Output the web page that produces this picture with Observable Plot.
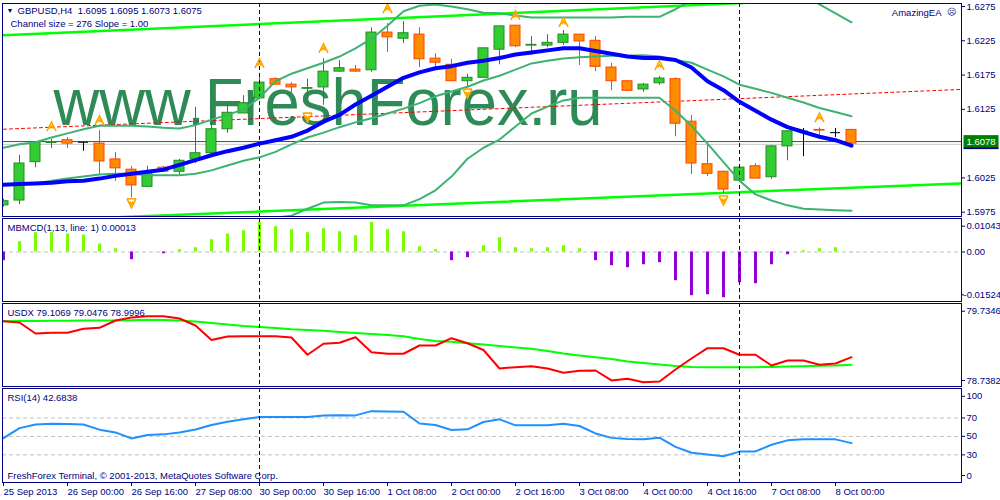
<!DOCTYPE html>
<html><head><meta charset="utf-8">
<script src="https://cdn.jsdelivr.net/npm/d3@7"></script>
<script src="https://cdn.jsdelivr.net/npm/@observablehq/plot@0.6"></script>
<style>
html,body{margin:0;padding:0;background:#fff;}
#chart{position:relative;width:1000px;height:500px;overflow:hidden;background:#fff;}
#chart svg{position:absolute;left:0;top:0;}
</style></head><body><div id="chart"></div>
<script>
// ---------- DATA ----------
const timeLabels = ["25 Sep 2013","26 Sep 00:00","26 Sep 16:00","27 Sep 08:00","30 Sep 00:00","30 Sep 16:00","1 Oct 08:00","2 Oct 00:00","2 Oct 16:00","3 Oct 08:00","4 Oct 00:00","4 Oct 16:00","7 Oct 08:00","8 Oct 00:00"];
const timeTickBars = [0,4,8,12,16,20,24,28,32,36,40,44,48,52];
const separatorBars = [16, 46];

const open  = [1.5985,1.5992,1.6048,1.6076,1.6080,1.6077,1.6075,1.6052,1.6037,1.6012,1.6040,1.6034,1.6052,1.6061,1.6096,1.6119,1.6141,1.6169,1.6161,1.6155,1.6157,1.6180,1.6183,1.6182,1.6237,1.6228,1.6234,1.6199,1.6190,1.6166,1.6171,1.6212,1.6247,1.6218,1.6218,1.6222,1.6234,1.6225,1.6186,1.6166,1.6154,1.6163,1.6169,1.6107,1.6045,1.6034,1.6021,1.6042,1.6026,1.6071,1.6093,1.6095,1.6091,1.6095];
const high  = [1.5994,1.6058,1.6078,1.6081,1.6084,1.6078,1.6094,1.6062,1.6042,1.6042,1.6042,1.6052,1.6128,1.6119,1.6134,1.6145,1.6177,1.6171,1.6164,1.6169,1.6199,1.6196,1.6189,1.6244,1.6250,1.6253,1.6244,1.6206,1.6198,1.6176,1.6214,1.6246,1.6247,1.6231,1.6234,1.6240,1.6234,1.6231,1.6192,1.6166,1.6163,1.6173,1.6171,1.6116,1.6075,1.6034,1.6040,1.6046,1.6072,1.6093,1.6097,1.6098,1.6097,1.6095];
const low   = [1.5982,1.5986,1.6040,1.6068,1.6068,1.6064,1.6030,1.6020,1.5996,1.6011,1.6033,1.6029,1.6046,1.6056,1.6090,1.6119,1.6139,1.6160,1.6128,1.6138,1.6131,1.6179,1.6179,1.6179,1.6208,1.6221,1.6186,1.6186,1.6166,1.6158,1.6171,1.6190,1.6215,1.6204,1.6215,1.6218,1.6189,1.6180,1.6152,1.6151,1.6150,1.6160,1.6085,1.6030,1.6027,1.6002,1.6021,1.6024,1.6023,1.6050,1.6056,1.6087,1.6084,1.6073];
const close = [1.5991,1.6046,1.6077,1.6077,1.6075,1.6077,1.6049,1.6039,1.6014,1.6033,1.6034,1.6050,1.6061,1.6096,1.6120,1.6134,1.6164,1.6161,1.6157,1.6156,1.6180,1.6185,1.6180,1.6237,1.6230,1.6236,1.6198,1.6193,1.6166,1.6171,1.6214,1.6246,1.6217,1.6219,1.6222,1.6234,1.6224,1.6187,1.6166,1.6152,1.6161,1.6170,1.6104,1.6046,1.6031,1.6008,1.6040,1.6024,1.6071,1.6093,1.6093,1.6094,1.6091,1.6075];

const maBlue = [1.6015,1.6016,1.6017,1.6018,1.6020,1.6021,1.6024,1.6028,1.6031,1.6034,1.6037,1.6044,1.6051,1.6058,1.6064,1.6069,1.6075,1.6080,1.6085,1.6094,1.6107,1.6117,1.6132,1.6145,1.6158,1.6171,1.6179,1.6185,1.6188,1.6193,1.6196,1.6200,1.6205,1.6208,1.6211,1.6214,1.6214,1.6210,1.6206,1.6202,1.6200,1.6200,1.6197,1.6186,1.6166,1.6153,1.6136,1.6123,1.6110,1.6099,1.6092,1.6085,1.6080,1.6072];
const bbUpper = [1.6069,1.6074,1.6077,1.6084,1.6090,1.6096,1.6101,1.6101,1.6101,1.6100,1.6098,1.6097,1.6102,1.6110,1.6117,1.6125,1.6142,1.6166,1.6177,1.6185,1.6193,1.6202,1.6214,1.6228,1.6247,1.6268,1.6276,1.6278,1.6275,1.6271,1.6266,1.6265,1.6262,1.6259,1.6259,1.6259,1.6259,1.6259,1.6259,1.6260,1.6260,1.6260,1.6271,1.6284,1.6292,1.6297,1.6301,1.6304,1.6306,1.6303,1.6290,1.6278,1.6265,1.6252];
const bbMiddle = [1.6015,1.6016,1.6017,1.6021,1.6024,1.6027,1.6030,1.6031,1.6031,1.6029,1.6029,1.6029,1.6031,1.6036,1.6043,1.6050,1.6055,1.6063,1.6074,1.6084,1.6091,1.6099,1.6106,1.6112,1.6119,1.6126,1.6134,1.6144,1.6151,1.6158,1.6167,1.6174,1.6183,1.6192,1.6196,1.6199,1.6201,1.6202,1.6203,1.6203,1.6204,1.6202,1.6197,1.6193,1.6183,1.6173,1.6161,1.6155,1.6149,1.6142,1.6135,1.6127,1.6121,1.6115];
const bbLower = [1.5961,1.5959,1.5956,1.5957,1.5959,1.5959,1.5959,1.5960,1.5961,1.5959,1.5959,1.5960,1.5959,1.5961,1.5963,1.5963,1.5964,1.5967,1.5970,1.5980,1.5989,1.5990,1.5989,1.5985,1.5985,1.5985,1.5994,1.6007,1.6027,1.6053,1.6069,1.6081,1.6100,1.6119,1.6129,1.6138,1.6142,1.6142,1.6142,1.6142,1.6142,1.6142,1.6123,1.6101,1.6075,1.6048,1.6021,1.6001,1.5992,1.5985,1.5980,1.5979,1.5978,1.5977];

const channelBars = [0, 59.8];
const channelLow  = [1.5961, 1.6017];
const channelHigh = [1.6233, 1.6294];
const regressionBars = [0, 59.8];
const regressionLine = [1.6096, 1.6154];
const levelGreen = 1.6078;
const levelBid = 1.6074;

const fractalUpBars  = [3,6,16,20,24,32,35,41,51];
const fractalUpPrice = [1.6100,1.6109,1.6192,1.6214,1.6272,1.6262,1.6252,1.6189,1.6113];
const fractalDownBars  = [8,19,29,45];
const fractalDownPrice = [1.5988,1.6113,1.6148,1.5992];

const priceTicks = [1.6275,1.6225,1.6175,1.6125,1.6025,1.5975];

const mbmcd = [-0.00279,0.00331,0.0062,0.0062,0.00578,0.00546,0.00257,0.00106,-0.00247,0,-0.00055,0.00074,0.00138,0.00395,0.00578,0.00684,0.00953,0.00812,0.00716,0.0062,0.00748,0.00652,0.00523,0.00953,0.00716,0.00652,0.0017,0.00074,-0.00279,-0.00183,0.00202,0.00459,0.00138,0.00106,0.00138,0.00202,0.00106,-0.00279,-0.0044,-0.00504,-0.00408,-0.00343,-0.00921,-0.01403,-0.01371,-0.01467,-0.00985,-0.01018,-0.00408,-0.00087,0.00042,0.00106,0.00138,0.00013];
const mbmcdMax = 0.01043, mbmcdMin = -0.01524;

const usdxRed = [79.537,79.520,79.382,79.390,79.390,79.441,79.453,79.545,79.583,79.600,79.600,79.571,79.482,79.300,79.344,79.348,79.348,79.348,79.331,79.113,79.252,79.264,79.335,79.146,79.126,79.126,79.230,79.230,79.322,79.259,79.173,78.940,78.957,78.969,78.940,78.886,78.911,78.915,78.789,78.810,78.767,78.776,78.928,79.066,79.196,79.196,79.113,79.113,78.978,79.041,79.041,78.987,79.003,79.083];
const usdxGreen = [79.537,79.539,79.539,79.541,79.542,79.545,79.545,79.545,79.548,79.554,79.551,79.545,79.533,79.514,79.495,79.476,79.463,79.451,79.436,79.426,79.416,79.400,79.388,79.375,79.363,79.348,79.312,79.287,79.277,79.259,79.243,79.224,79.205,79.189,79.161,79.129,79.104,79.083,79.060,79.028,79.010,78.991,78.972,78.959,78.957,78.957,78.957,78.957,78.959,78.965,78.969,78.974,78.978,78.987];
const usdxMax = 79.7346, usdxMin = 78.7382;

const rsi = [48.1,59,62.9,63.8,63.4,62.9,57.3,54.3,47.8,51.6,52.2,54.3,57.5,62.4,65.9,68.5,71,71,71,71,72.6,72.9,72.8,77.4,77.1,76.7,64,62.4,57,57.7,65.6,68.5,62,62,62,63.8,61.3,53.2,48.4,47.3,47,48.6,38.7,32.3,30.3,28.5,33.5,33.7,40.9,45.7,46.8,47,46.8,42.68];
const rsiLevels = [70,50,30];

// ---------- BUILD ----------
const NAVY = "#000080";
const FONT = "'Liberation Sans', Arial, sans-serif";
const FS = "9.5px";
const candles = open.map((o, i) => ({i, o, h: high[i], l: low[i], c: close[i]}));
const ser = arr => arr.map((v, i) => ({i, v}));
const pts = (xs, ys) => xs.map((x, k) => ({i: x, v: ys[k]}));

const upSym = {draw(ctx, size) { const r = Math.sqrt(size / Math.PI);
  ctx.moveTo(-r, r); ctx.lineTo(0, -r); ctx.lineTo(r, r);
  ctx.moveTo(-r * 0.45, r * 0.45); ctx.lineTo(0, -r * 0.1); ctx.lineTo(r * 0.45, r * 0.45); }};
const downSym = {draw(ctx, size) { const r = Math.sqrt(size / Math.PI);
  ctx.moveTo(-r, -r); ctx.lineTo(r, -r);
  ctx.moveTo(-r, -r); ctx.lineTo(0, r); ctx.lineTo(r, -r);
  ctx.moveTo(-r * 0.4, -r * 0.4); ctx.lineTo(0, r * 0.2); ctx.lineTo(r * 0.4, -r * 0.4); }};

function pane(top, bottom, y, marks) {
  return Plot.plot({
    width: 1000, height: 500,
    marginTop: top, marginBottom: 500 - bottom, marginLeft: 2, marginRight: 39,
    x: {domain: [0, 53], range: [3, 851], axis: null},
    y: {...y, axis: null},
    color: {type: "identity"},
    style: {background: "transparent", color: NAVY, fontFamily: FONT, fontSize: FS, overflow: "visible"},
    marks
  });
}
const label = (txt, anchor, dx, dy, extra = {}) =>
  Plot.text([txt], {text: d => d, frameAnchor: anchor, dx, dy, textAnchor: "start", lineAnchor: "middle", fill: NAVY, ...extra});
const separators = () => Plot.ruleX(separatorBars, {stroke: NAVY, strokeDasharray: "4,3", strokeWidth: 1});
const yAxis = (opts) => Plot.axisY({anchor: "right", label: null, tickSize: 3, tickPadding: 2, ...opts});

const bull = d => d.c > d.o;
const mainPlot = pane(3, 216, {domain: [1.5975, 1.6275], range: [211.7, 6]}, [
  Plot.text(["www.FreshForex.ru"], {text: d => d, frameAnchor: "top-left", dx: 51, dy: 75, lineAnchor: "top", textAnchor: "start", fontSize: 66, fill: "#2E8B57", fontFamily: FONT}),
  Plot.ruleY([levelBid], {stroke: "#C8C8C8", strokeWidth: 1}),
  Plot.ruleY([levelGreen], {stroke: "#008000", strokeWidth: 1}),
  Plot.line(pts(channelBars, channelLow), {x: "i", y: "v", stroke: "#00FF00", strokeWidth: 2.5, clip: true}),
  Plot.line(pts(channelBars, channelHigh), {x: "i", y: "v", stroke: "#00FF00", strokeWidth: 2.5, clip: true}),
  Plot.line(pts(regressionBars, regressionLine), {x: "i", y: "v", stroke: "#FF0000", strokeWidth: 1, strokeDasharray: "3,3", clip: true}),
  Plot.ruleX(candles, {x: "i", y1: "l", y2: "h", stroke: d => d.o === d.c ? "#000000" : bull(d) ? "#228B22" : "#FF4500", strokeWidth: 1, clip: true}),
  Plot.rect(candles.filter(d => d.o !== d.c), {x1: d => d.i - 0.3125, x2: d => d.i + 0.3125, y1: "o", y2: "c",
    fill: d => bull(d) ? "#32CD32" : "#FF8C00", stroke: d => bull(d) ? "#228B22" : "#FF4500", strokeWidth: 1, clip: true}),
  Plot.ruleY(candles.filter(d => d.o === d.c), {y: "c", x1: d => d.i - 0.3125, x2: d => d.i + 0.3125, stroke: "#000000", strokeWidth: 1, clip: true}),
  separators(),
  Plot.line(ser(bbUpper), {x: "i", y: "v", stroke: "#3CB371", strokeWidth: 2, clip: true}),
  Plot.line(ser(bbMiddle), {x: "i", y: "v", stroke: "#3CB371", strokeWidth: 2, clip: true}),
  Plot.line(ser(bbLower), {x: "i", y: "v", stroke: "#3CB371", strokeWidth: 2, clip: true}),
  Plot.line(ser(maBlue), {x: "i", y: "v", stroke: "#0000FF", strokeWidth: 4, clip: true}),
  Plot.dot(pts(fractalUpBars, fractalUpPrice), {x: "i", y: "v", symbol: upSym, r: 4.5, fill: "none", stroke: "#FFA500", strokeWidth: 1.6}),
  Plot.dot(pts(fractalDownBars, fractalDownPrice), {x: "i", y: "v", symbol: downSym, r: 4.5, fill: "none", stroke: "#FFA500", strokeWidth: 1.6}),
  Plot.frame({stroke: NAVY}),
  label("▼", "top-left", 4, 7.5, {fontSize: 7}),
  label("GBPUSD,H4  1.6095 1.6095 1.6073 1.6075", "top-left", 15, 7.5),
  label("Channel size = 276 Slope = 1.00", "top-left", 8, 20.5),
  label("AmazingEA", "top-right", -20, 9, {textAnchor: "end"}),
  label("☹", "top-right", -10, 9, {textAnchor: "middle", fontSize: 9}),
  yAxis({ticks: priceTicks, tickFormat: d => d.toFixed(4)}),
  yAxis({ticks: [levelGreen], tickFormat: d => d.toFixed(4), tickSize: 0, tickPadding: 5})
]);

const macdPlot = pane(218, 301, {domain: [mbmcdMin, mbmcdMax], range: [299, 219]}, [
  Plot.ruleY([0], {stroke: "#C0C0C0", strokeDasharray: "4,3"}),
  Plot.ruleX(ser(mbmcd), {x: "i", y1: () => 0, y2: "v", stroke: d => d.v >= 0 ? "#7CFC00" : "#9400D3", strokeWidth: 3, clip: true}),
  separators(),
  Plot.frame({stroke: NAVY}),
  label("MBMCD(1,13, line: 1) 0.00013", "top-left", 5, 9.7),
  yAxis({ticks: [mbmcdMax], tickFormat: d => d.toFixed(5), dy: 6.7}),
  yAxis({ticks: [0], tickFormat: () => "0.00"}),
  yAxis({ticks: [mbmcdMin], tickFormat: d => d.toFixed(5), tickSize: 2, tickPadding: 0, dy: -4.7})
]);

const usdxPlot = pane(303, 386, {domain: [usdxMin, usdxMax], range: [384, 305]}, [
  Plot.line(ser(usdxGreen), {x: "i", y: "v", stroke: "#00FF00", strokeWidth: 2, clip: true}),
  Plot.line(ser(usdxRed), {x: "i", y: "v", stroke: "#FF0000", strokeWidth: 2, clip: true}),
  separators(),
  Plot.frame({stroke: NAVY}),
  label("USDX 79.1069 79.0476 78.9996", "top-left", 5, 9.7),
  yAxis({ticks: [usdxMax], tickFormat: d => d.toFixed(4), dy: 5.7}),
  yAxis({ticks: [usdxMin], tickFormat: d => d.toFixed(4), dy: -4})
]);

const rsiPlot = pane(388, 482, {domain: [0, 100], range: [482, 389.8]}, [
  Plot.ruleY(rsiLevels, {stroke: "#C0C0C0", strokeDasharray: "4,3"}),
  Plot.line(ser(rsi), {x: "i", y: "v", stroke: "#1E90FF", strokeWidth: 2, clip: true}),
  separators(),
  Plot.frame({stroke: NAVY}),
  label("RSI(14) 42.6838", "top-left", 5, 9.7),
  label("FreshForex Terminal, © 2001-2013, MetaQuotes Software Corp.", "bottom-left", 5, -7),
  yAxis({ticks: rsiLevels}),
  yAxis({ticks: [100], dy: 6}),
  yAxis({ticks: [0], dy: -7}),
  Plot.axisX({anchor: "bottom", label: null, ticks: timeTickBars, tickFormat: d => timeLabels[timeTickBars.indexOf(d)], textAnchor: "start", tickSize: 4, tickPadding: 2})
]);

const chart = document.getElementById("chart");
[mainPlot, macdPlot, usdxPlot, rsiPlot].forEach(p => chart.appendChild(p));

// green box behind the current level label; stretch watermark to its measured width
d3.select(mainPlot).selectAll("text").filter(function () { return this.textContent === levelGreen.toFixed(4); }).each(function () {
  const b = this.getBBox();
  const tr = this.getAttribute("transform");
  const parent = d3.select(this.parentNode);
  parent.insert("rect", () => this).attr("transform", tr)
    .attr("x", b.x - 3).attr("y", b.y - 0.5).attr("width", b.width + 6).attr("height", b.height + 1).attr("fill", "#008000");
  parent.insert("rect", () => this).attr("transform", tr)
    .attr("x", b.x - 3).attr("y", b.y + b.height + 0.5).attr("width", b.width + 6).attr("height", 2).attr("fill", NAVY);
  d3.select(this).attr("fill", "white");
});
d3.select(mainPlot).selectAll("text").filter(function () { return this.textContent === "www.FreshForex.ru"; })
  .attr("textLength", 549).attr("lengthAdjust", "spacingAndGlyphs");
</script></body></html>
